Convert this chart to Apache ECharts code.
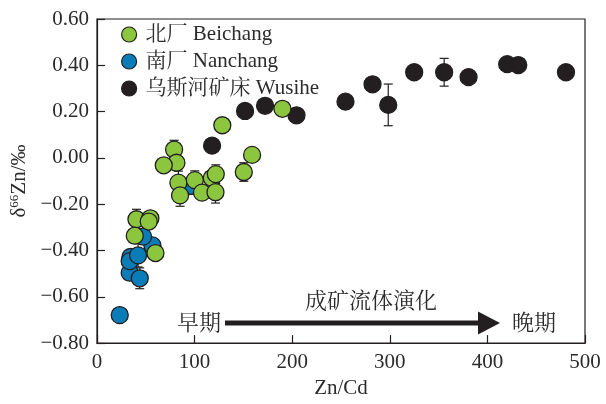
<!DOCTYPE html>
<html>
<head>
<meta charset="utf-8">
<script src="https://cdn.jsdelivr.net/npm/echarts@6/dist/echarts.min.js"></script>
<style>html,body{margin:0;padding:0;background:#fff;}#c{width:606px;height:404px;}</style>
</head>
<body>
<div id="c"></div>
<script>
// ---- data ----
var seriesNames = ['北厂 Beichang', '南厂 Nanchang', '乌斯河矿床 Wusihe'];
var beichang = [
  [40.4,-0.265],[54.7,-0.261],[53.0,-0.275],[38.7,-0.336],[59.9,-0.411],
  [79.0,0.036],[81.4,-0.021],[68.4,-0.032],[83.4,-0.107],[85.1,-0.162],
  [100.2,-0.096],[107.6,-0.150],[117.6,-0.087],[121.7,-0.070],[121.4,-0.148],
  [150.4,-0.061],[158.9,0.013],[128.4,0.141],[190.0,0.212]
];
var beichangErr = [0.043,0,0,0,0, 0.04,0,0,0.05,0.047, 0.04,0,0,0.04,0.047, 0.04,0,0,0];
var nanchang = [
  [23.3,-0.679],[33.5,-0.496],[43.8,-0.520],[34.2,-0.428],[33.5,-0.446],
  [42.1,-0.421],[56.8,-0.378],[47.2,-0.340],[96.0,-0.121]
];
var nanchangErr = [0,0,0.045,0,0, 0.05,0,0,0];
var wusihe = [
  [117.9,0.053],[151.7,0.203],[172.2,0.225],[204.4,0.184],[254.6,0.243],
  [282.3,0.318],[298.4,0.229],[325.0,0.370],[355.7,0.370],[380.7,0.349],
  [420.3,0.405],[431.6,0.401],[480.5,0.370]
];
var wusiheErr = [0,0,0,0,0, 0,0.09,0,0.06,0, 0,0,0];
var xTicks = {min:0, max:500, interval:100};
var yTicks = {min:-0.8, max:0.6, interval:0.2};

// ---- build ----
var colors = ['#8cc63f', '#0a7db8', '#231f20'];
var serif = '"Liberation Serif","Times New Roman",serif';
var cjk = '"Liberation Serif","Noto Serif CJK SC","Noto Sans CJK SC",serif';

function errData(pts, errs){
  var out = [];
  for (var i=0;i<pts.length;i++){ if (errs[i]>0) out.push([pts[i][0], pts[i][1], errs[i]]); }
  return out;
}
function errSeries(pts, errs, z){
  return {
    type:'custom', z:z, silent:true, data: errData(pts, errs),
    renderItem: function(params, api){
      var x = api.value(0), y = api.value(1), e = api.value(2);
      var top = api.coord([x, y+e]), bot = api.coord([x, y-e]);
      var w = 4.5;
      var st = {stroke:'#231f20', lineWidth:1.2};
      return {type:'group', children:[
        {type:'line', shape:{x1:top[0],y1:top[1],x2:bot[0],y2:bot[1]}, style:st},
        {type:'line', shape:{x1:top[0]-w,y1:top[1],x2:top[0]+w,y2:top[1]}, style:st},
        {type:'line', shape:{x1:bot[0]-w,y1:bot[1],x2:bot[0]+w,y2:bot[1]}, style:st}
      ]};
    }
  };
}
function scatter(name, pts, color, z){
  return {
    name:name, type:'scatter', data:pts, z:z, symbol:'circle', symbolSize:17,
    itemStyle:{color:color, borderColor:'#231f20', borderWidth:1.3, opacity:1},
    emphasis:{disabled:true}
  };
}

var chart = echarts.init(document.getElementById('c'), null, {renderer:'canvas'});
var option = {
  animation:false,
  backgroundColor:'#fff',
  grid:{left:97, right:21, top:19, bottom:54, show:true, borderColor:'#231f20', borderWidth:1.2, containLabel:false},
  legend:{
    orient:'vertical', left:116, top:19, itemWidth:15, itemHeight:15, itemGap:6,
    icon:'circle', selectedMode:false,
    data: seriesNames,
    textStyle:{fontFamily:cjk, fontSize:21, color:'#2b2b2b', padding:[0,0,0,4]},
    itemStyle:{borderColor:'#231f20', borderWidth:1.2}
  },
  xAxis:{
    type:'value', min:xTicks.min, max:xTicks.max, interval:xTicks.interval,
    name:'Zn/Cd', nameLocation:'middle', nameGap:32,
    nameTextStyle:{fontFamily:serif, fontSize:21, color:'#2b2b2b'},
    axisLine:{onZero:false, lineStyle:{color:'#231f20', width:1.2}},
    axisTick:{inside:true, length:8, lineStyle:{color:'#231f20', width:1.2}},
    axisLabel:{fontFamily:serif, fontSize:21, color:'#2b2b2b', margin:9},
    splitLine:{show:false}
  },
  yAxis:{
    type:'value', min:yTicks.min, max:yTicks.max, interval:yTicks.interval,
    name:'δ{s|66}Zn/‰', nameLocation:'middle', nameGap:61, nameRotate:90,
    nameTextStyle:{fontFamily:serif, fontSize:21, color:'#2b2b2b',
      rich:{s:{fontFamily:serif, fontSize:13, color:'#2b2b2b', padding:[0,0,9,0]}}},
    axisLine:{onZero:false, lineStyle:{color:'#231f20', width:1.2}},
    axisTick:{inside:true, length:8, lineStyle:{color:'#231f20', width:1.2}},
    axisLabel:{fontFamily:serif, fontSize:21, color:'#2b2b2b', margin:8,
      formatter:function(v){ var s=Math.abs(v).toFixed(2); return (v< -1e-9?'\u2212':'')+s; }},
    splitLine:{show:false}
  },
  series:[
    errSeries(nanchang, nanchangErr, 1),
    errSeries(wusihe, wusiheErr, 1),
    errSeries(beichang, beichangErr, 1),
    scatter(seriesNames[1], nanchang, colors[1], 2),
    scatter(seriesNames[2], wusihe, colors[2], 3),
    scatter(seriesNames[0], beichang, colors[0], 4)
  ],
  graphic:[
    {type:'line', shape:{x1:225,y1:323,x2:481,y2:323}, style:{stroke:'#231f20', lineWidth:5}},
    {type:'polygon', shape:{points:[[478,311.5],[478,334.5],[500,323]]}, style:{fill:'#231f20'}},
    {type:'text', x:199, y:324, style:{text:'早期', fontFamily:cjk, fontSize:22, fill:'#2b2b2b', align:'center', verticalAlign:'middle'}},
    {type:'text', x:534, y:324, style:{text:'晚期', fontFamily:cjk, fontSize:22, fill:'#2b2b2b', align:'center', verticalAlign:'middle'}},
    {type:'text', x:371, y:302, style:{text:'成矿流体演化', fontFamily:cjk, fontSize:22, fill:'#2b2b2b', align:'center', verticalAlign:'middle'}}
  ]
};
chart.setOption(option);
</script>
</body>
</html>
